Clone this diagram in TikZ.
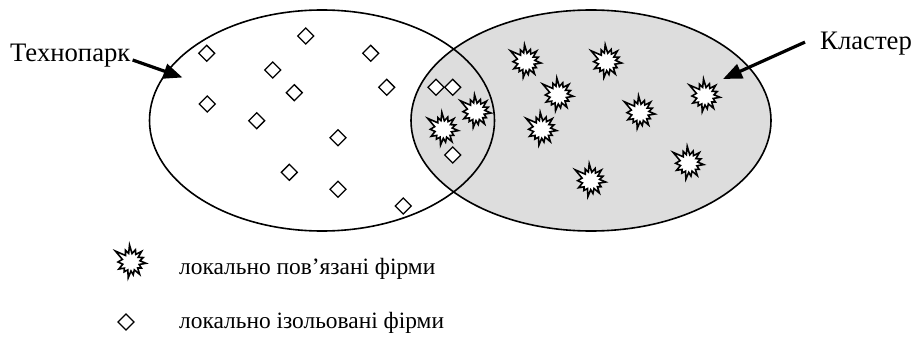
\documentclass[tikz,border=0pt]{standalone}
\usepackage{fontspec}
\setmainfont{Liberation Serif}
\usetikzlibrary{shapes.geometric,arrows.meta}
\definecolor{clusterfill}{RGB}{221,221,221}

\tikzset{
  setline/.style={draw=black, line width=1.6pt, shape=ellipse, inner sep=0pt},
  isofirm/.style={shape=diamond, draw=black, fill=white, line width=1.3pt,
                  minimum width=16.5pt, minimum height=16.5pt, inner sep=0pt},
  settxt/.style={font=\fontsize{26.7}{30}\selectfont, inner sep=0pt},
  legtxt/.style={font=\fontsize{23.4}{28}\selectfont, inner sep=0pt},
  pointer/.style={line width=3.2pt, -{Triangle[length=19pt,width=15pt]}},
  % irregular "explosion" marker for linked firms (angles with y pointing down)
  burst/.pic={
    \draw[line width=1.6pt, fill=white, miter limit=10]
      (215:19) -- (230:8.5) -- (245:13) -- (255:9) -- (265:17) -- (277:8.5)
      -- (290:13) -- (302:9) -- (315:15) -- (327:8.5) -- (340:13) -- (352:9)
      -- (5:15) -- (17:8.5) -- (30:12) -- (42:9) -- (55:15) -- (67:8.5)
      -- (80:13) -- (90:9) -- (100:16) -- (112:8.5) -- (125:12) -- (137:9)
      -- (150:14) -- (165:8.5) -- (180:13) -- (197:9) -- cycle;
  }
}

\begin{document}
\begin{tikzpicture}[x=1pt, y=-1pt]
  \useasboundingbox (0,0) rectangle (912,342);

  % the two sets: cluster (filled) below, technopark outline on top
  \node[setline, fill=clusterfill, minimum width=360pt, minimum height=221pt]
    (cluster) at (591,120.5) {};
  \node[setline, minimum width=345pt, minimum height=221pt]
    (tpark) at (322,120.5) {};

  % locally isolated firms
  \foreach \x/\y [count=\i] in {206.7/53.3, 305.7/36, 370.7/53.3, 272.7/70,
      294.3/92.7, 386.7/87.3, 207.3/104, 256.7/120.7, 338/137.7,
      289.3/172.3, 338/189.3, 403.3/206, 436/87.3, 452.7/87.3, 452.7/155}
    \node[isofirm] (iso\i) at (\x,\y) {};

  % locally linked firms
  \foreach \x/\y [count=\i] in {526/61.7, 606.7/61.7, 558.3/95, 640/112.7,
      705/96, 541.7/129.3, 476/111.7, 443.3/129.3, 590.7/180.7, 688.7/163.3}
    \pic (link\i) at (\x,\y) {burst};

  % set labels with pointers
  \node[settxt, anchor=base west] (tparklabel) at (10,62) {Технопарк};
  \coordinate (tparktip) at (182.5,77.5);
  \draw[pointer] ([xshift=2pt,yshift=2pt]tparklabel.base east) -- (tparktip);

  \node[settxt, anchor=base west] (clusterlabel) at (820,50) {Кластер};
  \coordinate (clustertip) at (723,79);
  \draw[pointer] ([xshift=-15pt,yshift=2pt]clusterlabel.west) -- (clustertip);

  % legend
  \pic (legburst) at (131,262) {burst};
  \node[legtxt, anchor=base west] (legtext1) at (179,274) {локально пов’язані фірми};
  \node[isofirm] (legdiamond) at (126,322) {};
  \node[legtxt, anchor=base west] (legtext2) at (179,328) {локально ізольовані фірми};
\end{tikzpicture}
\end{document}
